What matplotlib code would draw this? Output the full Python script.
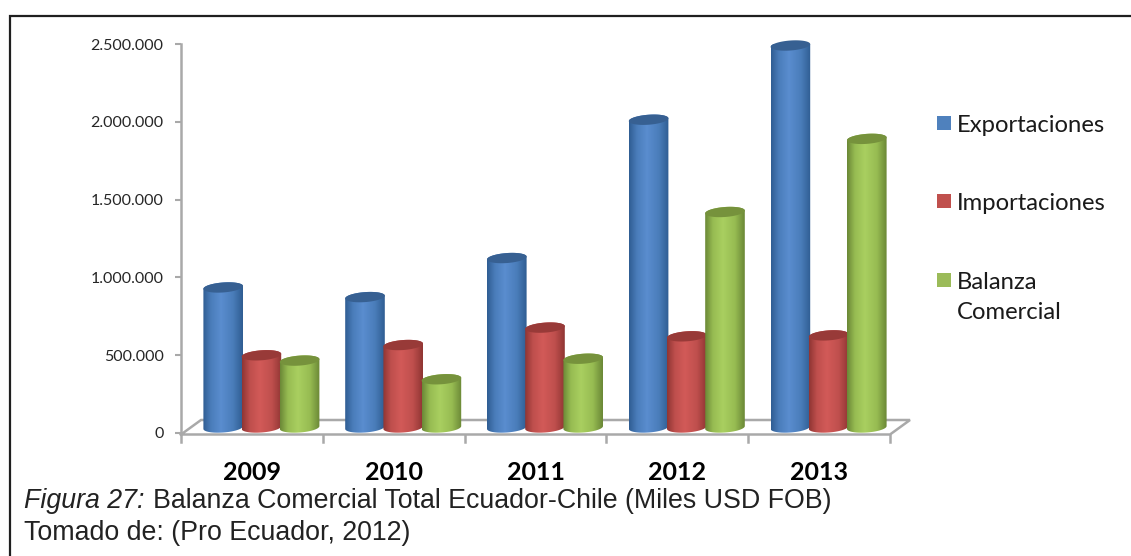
import numpy as np
import matplotlib
matplotlib.use("Agg")
import matplotlib.pyplot as plt
from matplotlib.path import Path
from matplotlib.patches import PathPatch, Rectangle
from matplotlib.transforms import IdentityTransform
from matplotlib.colors import LinearSegmentedColormap

years = ["2009", "2010", "2011", "2012", "2013"]
series_names = ["Exportaciones", "Importaciones", "Balanza\nComercial"]
exportaciones = [900000, 838000, 1089000, 1978000, 2455000]
importaciones = [464000, 530000, 642000, 586000, 592000]
balanza = [430000, 310000, 442000, 1385000, 1855000]
tick_values = [0, 500000, 1000000, 1500000, 2000000, 2500000]
tick_labels = ["0", "500.000", "1.000.000", "1.500.000", "2.000.000", "2.500.000"]

W, H = 1131, 556
fig = plt.figure(figsize=(W / 100, H / 100), dpi=100, facecolor="white")
ax = fig.add_axes([181 / W, 1 - 433 / H, (890 - 181) / W, (433 - 44) / H])
ax.set_xlim(-0.5, 4.5)
ax.set_ylim(0, 2500000)
ax.autoscale(False)
ax.patch.set_alpha(0)
for s in ["top", "right", "bottom"]:
    ax.spines[s].set_visible(False)
GREY = "#a9a9a9"
ax.spines["left"].set_color(GREY)
ax.spines["left"].set_linewidth(1.8)
ax.set_yticks(tick_values)
ax.set_yticklabels(tick_labels, fontfamily="Lato", fontsize=11.5, color="#262626")
ax.tick_params(axis="y", length=4.5, width=1.5, color=GREY, pad=8)
ax.set_xticks(range(5))
ax.set_xticklabels(years, fontfamily="Lato", fontsize=18, fontweight="bold", color="black")
ax.tick_params(axis="x", length=0, pad=20)

I = IdentityTransform()

# floor of the 3D chart
def floor_line(xs, ys, lw=1.8):
    ax.plot(list(xs), [H - y for y in ys], color=GREY, lw=lw, transform=I,
            clip_on=False, solid_capstyle="projecting", solid_joinstyle="miter", zorder=1)

x_left = ax.transData.transform((-0.5, 0))[0]
x_right = ax.transData.transform((4.5, 0))[0]
floor_line([x_left, x_right, x_right + 20, x_left + 20, x_left], [434.5, 434.5, 420, 420, 434.5])
for e in np.arange(-0.5, 4.6, 1.0):
    xd = ax.transData.transform((e, 0))[0]
    floor_line([xd, xd], [434.5, 442])

def ramp(c_edge, c_mid, c_light):
    return LinearSegmentedColormap.from_list(
        "r", [(0, c_edge), (0.2, c_mid), (0.45, c_light), (0.75, c_mid), (1, c_edge)])

styles = [
    dict(cmap=ramp("#2f5d92", "#4a7dba", "#5a8dcf"), top="#376092", leg="#4f81bd"),
    dict(cmap=ramp("#8f3533", "#bf4f4d", "#d25a58"), top="#983a38", leg="#c0504d"),
    dict(cmap=ramp("#6a8736", "#97bc52", "#a9cf60"), top="#76923c", leg="#9bbb59"),
]
grad = np.linspace(0, 1, 256).reshape(1, -1)
A, B, TILT = 19.8, 5.0, 1.4       # cylinder ellipse, pixels
DX, DY = 9.5, 5.5                 # depth shift of the cylinders, pixels
SPACING = 38.2 / ((890 - 181) / 5)

def ellipse(cx, cy, t):
    return cx + A * np.cos(t), cy + B * np.sin(t) + TILT * np.cos(t)

def cylinder(xd, value, st, z):
    cx, y_base = ax.transData.transform((xd, 0))
    _, y_top = ax.transData.transform((xd, value))
    cx, y_base, y_top = cx + DX, y_base + DY, y_top + DY
    t1 = np.linspace(np.pi, 2 * np.pi, 40)
    t2 = np.linspace(0, np.pi, 40)
    bx, by = ellipse(cx, y_base, t1)
    tx, ty = ellipse(cx, y_top, t2)
    body = np.column_stack([np.r_[bx, tx], np.r_[by, ty]])
    patch = PathPatch(Path(np.vstack([body, body[0]]), closed=True), transform=I,
                      fc="none", ec="none", zorder=z)
    ax.add_patch(patch)
    im = ax.imshow(grad, cmap=st["cmap"], aspect="auto", transform=I, interpolation="bilinear",
                   extent=[cx - A, cx + A, y_base - B - 3, y_top + B + 3], zorder=z)
    im.set_clip_path(patch)
    t = np.linspace(0, 2 * np.pi, 80)
    ex, ey = ellipse(cx, y_top, t)
    ax.add_patch(PathPatch(Path(np.column_stack([ex, ey]), closed=True), transform=I,
                           fc=st["top"], ec="none", zorder=z + 0.1, clip_on=False))

for i in range(len(years)):
    for j, vals in enumerate([exportaciones, importaciones, balanza]):
        cylinder(i + (j - 1) * SPACING, vals[i], styles[j], 3 + j)

# legend
leg_y = [123, 201, 280]
for name, st, y in zip(series_names, styles, leg_y):
    fig.add_artist(Rectangle((937 / W, 1 - (y + 7) / H), 14 / W, 14 / H, transform=fig.transFigure,
                             fc=st["leg"], ec="none"))
    fig.text(957 / W, 1 - (y - 8) / H, name, fontfamily="Lato", fontsize=17.2, color="#1a1a1a",
             va="top", ha="left", linespacing=1.55)

# caption
CAP = 19.3
fig.text(24 / W, 1 - 501 / H, "Figura 27:", fontfamily="Liberation Sans", fontstyle="italic",
         fontsize=CAP, color="#222222", va="center")
fig.text(153 / W, 1 - 501 / H, "Balanza Comercial Total Ecuador-Chile (Miles USD FOB)",
         fontfamily="Liberation Sans", fontsize=CAP, color="#222222", va="center")
fig.text(24 / W, 1 - 533 / H, "Tomado de: (Pro Ecuador, 2012)",
         fontfamily="Liberation Sans", fontsize=CAP, color="#222222", va="center")

# outer frame
fig.add_artist(plt.Line2D([9.5 / W, 9.5 / W, 1 + 5 / W], [-5 / H, 1 - 16 / H, 1 - 16 / H],
                          transform=fig.transFigure, color="#1f1f1f", lw=1.6,
                          solid_joinstyle="miter"))

fig.savefig("out.png", dpi=100)
